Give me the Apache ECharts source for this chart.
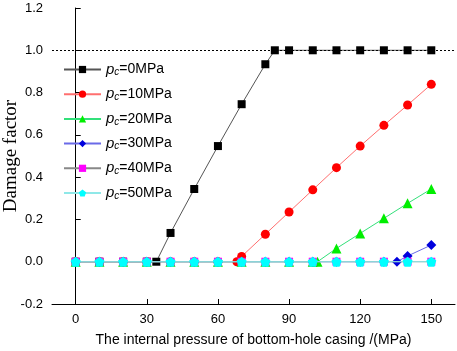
<!DOCTYPE html>
<html>
<head>
<meta charset="utf-8">
<script src="https://cdn.jsdelivr.net/npm/echarts@6/dist/echarts.min.js"></script>
<style>
  html, body { margin: 0; padding: 0; background: #fff; }
  #chart { width: 457px; height: 351px; }
</style>
</head>
<body>
<div id="chart"></div>
<script>
  // 数据
  const pcLevels = [0, 10, 20, 30, 40, 50];
  const xTicks = [0, 30, 60, 90, 120, 150];
  const fullX = [0, 10, 20, 30, 40, 50, 60, 70, 80, 90, 100, 110, 120, 130, 140, 150];

  const x0 = [0, 10, 20, 30, 34, 40, 50, 60, 70, 80, 84, 90, 100, 110, 120, 130, 140, 150];
  const y0 = [0, 0, 0, 0, 0, 0.136, 0.344, 0.547, 0.745, 0.934, 1, 1, 1, 1, 1, 1, 1, 1];

  const x10 = [0, 10, 20, 30, 40, 50, 60, 68, 70, 80, 90, 100, 110, 120, 130, 140, 150];
  const y10 = [0, 0, 0, 0, 0, 0, 0, 0, 0.025, 0.13, 0.235, 0.34, 0.445, 0.547, 0.645, 0.741, 0.839];

  const x20 = [0, 10, 20, 30, 40, 50, 60, 70, 80, 90, 100, 102, 110, 120, 130, 140, 150];
  const y20 = [0, 0, 0, 0, 0, 0, 0, 0, 0, 0, 0, 0, 0.063, 0.134, 0.205, 0.276, 0.344];

  const x30 = [0, 10, 20, 30, 40, 50, 60, 70, 80, 90, 100, 110, 120, 130, 135.5, 140, 150];
  const y30 = [0, 0, 0, 0, 0, 0, 0, 0, 0, 0, 0, 0, 0, 0, 0, 0.027, 0.079];

  const y40 = [0, 0, 0, 0, 0, 0, 0, 0, 0, 0, 0, 0, 0, 0, 0, 0];
  const y50 = [0, 0, 0, 0, 0, 0, 0, 0, 0, 0, 0, 0, 0, 0, 0, 0];

  const pentagon = 'path://M0,-1L0.951,-0.309L0.588,0.809L-0.588,0.809L-0.951,-0.309Z';

  const pair = (xs, ys) => xs.map((x, i) => [x, ys[i]]);

  const seriesDefs = [
    { data: pair(x0, y0), symbol: 'rect', size: 8, color: '#000000', line: '#555555' },
    { data: pair(x10, y10), symbol: 'circle', size: 9, color: '#ff0000', line: '#ff6f6f' },
    { data: pair(x20, y20), symbol: 'triangle', size: 10, color: '#00ee00', line: '#33e07a' },
    { data: pair(x30, y30), symbol: 'diamond', size: 10, color: '#0000dd', line: '#6a6ae8' },
    { data: pair(fullX, y40), symbol: 'rect', size: 8, color: '#ff00ff', line: '#888888' },
    { data: pair(fullX, y50), symbol: pentagon, size: 10, color: '#00ffff', line: '#8fe8e8' }
  ];

  const names = pcLevels.map(p => 'pc=' + p + 'MPa');

  const chart = echarts.init(document.getElementById('chart'));

  const series = seriesDefs.map((d, i) => ({
    name: names[i],
    type: 'line',
    data: d.data,
    symbol: d.symbol,
    symbolSize: d.size,
    z: 2 + i,
    itemStyle: { color: d.color },
    lineStyle: { color: d.line, width: 1 },
    animation: false
  }));

  // 1.0 虚线
  series[0].markLine = {
    silent: true,
    symbol: 'none',
    label: { show: false },
    lineStyle: { color: '#000', type: [2, 2], width: 1 },
    data: [{ yAxis: 1 }]
  };

  const option = {
    backgroundColor: '#fff',
    animation: false,
    grid: { left: 52, right: 2, top: 8, bottom: 47, containLabel: false, outerBoundsMode: 'none' },
    legend: {
      orient: 'vertical',
      left: 63,
      top: 62,
      padding: 0,
      itemWidth: 37,
      itemHeight: 9,
      itemGap: 9.2,
      data: names,
      formatter: name => {
        const v = name.replace('pc=', '');
        return '{p|p}{c|c}{t|=' + v + '}';
      },
      textStyle: {
        rich: {
          p: { fontFamily: 'Liberation Sans', fontStyle: 'italic', fontSize: 15, color: '#000' },
          c: { fontFamily: 'Liberation Sans', fontStyle: 'italic', fontSize: 10, color: '#000', verticalAlign: 'bottom', padding: [6, 0, 0, 0] },
          t: { fontFamily: 'Liberation Sans', fontSize: 14, color: '#000' }
        }
      }
    },
    xAxis: {
      type: 'value',
      min: -10,
      max: 160,
      name: 'The internal pressure of bottom-hole casing /(MPa)',
      nameLocation: 'middle',
      nameGap: 29,
      nameMoveOverlap: false,
      nameTextStyle: { fontFamily: 'Liberation Sans', fontSize: 14, color: '#000' },
      axisLine: { onZero: false, lineStyle: { color: '#000', width: 1 } },
      axisTick: { inside: true, length: 5, customValues: xTicks, lineStyle: { color: '#000' } },
      axisLabel: { customValues: xTicks, margin: 9, fontFamily: 'Liberation Sans', fontSize: 13, color: '#000' },
      splitLine: { show: false }
    },
    yAxis: {
      type: 'value',
      min: -0.2,
      max: 1.2,
      interval: 0.2,
      name: 'Damage factor',
      nameLocation: 'middle',
      nameGap: 31,
      nameMoveOverlap: false,
      nameTextStyle: { fontFamily: 'Liberation Serif', fontSize: 19, color: '#000' },
      axisLine: { show: true, lineStyle: { color: '#000', width: 1 } },
      axisTick: { show: true, inside: true, length: 5, lineStyle: { color: '#000' } },
      axisLabel: {
        margin: 9,
        fontFamily: 'Liberation Sans',
        fontSize: 13,
        color: '#000',
        formatter: v => v.toFixed(1)
      },
      splitLine: { show: false }
    },
    series: series
  };

  chart.setOption(option);
</script>
</body>
</html>
